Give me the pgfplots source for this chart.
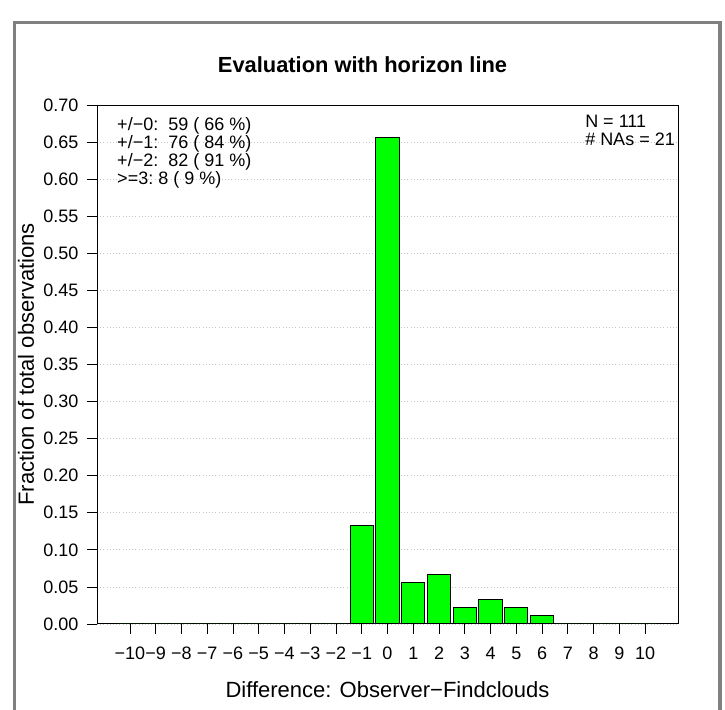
\documentclass[border=0pt]{standalone}
\usepackage{fontspec}
\setmainfont{Liberation Sans}
\usepackage{pgfplots}
\pgfplotsset{compat=1.18}
\definecolor{bargreen}{RGB}{0,255,0}
\definecolor{framegray}{RGB}{128,128,128}
\newcommand{\tickfont}{\fontsize{13.5}{11.6}\selectfont}
\newcommand{\labfont}{\fontsize{16.5}{18}\selectfont}

\begin{document}
\begin{tikzpicture}[x=0.75pt,y=0.75pt]
  \useasboundingbox (0,0) rectangle (725,710);
  % outer frame, open at the bottom
  \draw[framegray, line width=2.6pt] (14.5,-5) -- (14.5,687.5) -- (720,687.5) -- (720,-5);
  % title, centred on the whole figure
  \node[anchor=base, font=\bfseries\fontsize{16.4}{18}\selectfont] at (362.5,637) {Evaluation with horizon line};

  \begin{axis}[
      at={(72.75pt,64.5pt)}, anchor=south west,
      scale only axis,
      width=435.75pt, height=389.25pt,
      xmin=-11.28, xmax=11.28,
      ymin=0, ymax=0.70,
      axis line style={black, line width=0.75pt},
      tick align=outside,
      major tick length=7.5pt,
      tick style={black, line width=0.6pt},
      xtick pos=left, ytick pos=left,
      xtick={-10,-9,-8,-7,-6,-5,-4,-3,-2,-1,0,1,2,3,4,5,6,7,8,9,10},
      xticklabels={−10,−9,−8,−7,−6,−5,−4,−3,−2,−1,0,1,2,3,4,5,6,7,8,9,10},
      ytick={0,0.05,0.10,0.15,0.20,0.25,0.30,0.35,0.40,0.45,0.50,0.55,0.60,0.65,0.70},
      yticklabels={0.00,0.05,0.10,0.15,0.20,0.25,0.30,0.35,0.40,0.45,0.50,0.55,0.60,0.65,0.70},
      tick label style={font=\tickfont},
      xticklabel style={yshift=-6.5pt},
      yticklabel style={xshift=-3pt},
      ymajorgrids,
      major grid style={gray!45, line width=0.6pt, dash pattern=on 0.8pt off 1.6pt},
      xlabel={Difference: Observer−Findclouds},
      ylabel={Fraction of total observations},
      every axis x label/.style={at={(axis description cs:0.5,-0.127)}, anchor=center, font=\labfont},
      every axis y label/.style={at={(axis description cs:-0.122,0.5)}, rotate=90, anchor=center, font=\labfont},
      ybar, bar width=0.9,
    ]
    \addplot[fill=bargreen, draw=black, line width=0.75pt] coordinates {
      (-10,0) (-9,0) (-8,0) (-7,0) (-6,0) (-5,0) (-4,0) (-3,0) (-2,0)
      (-1,0.1333) (0,0.6556) (1,0.0556) (2,0.0667) (3,0.0222)
      (4,0.0333) (5,0.0222) (6,0.0111)
      (7,0) (8,0) (9,0) (10,0)
    };
    \node[anchor=north west, font=\tickfont, inner sep=0pt, align=left] at (rel axis cs:0.0344,0.9769)
      {+/−0:\ \ 59 (\ 66 \%)\\+/−1:\ \ 76 (\ 84 \%)\\+/−2:\ \ 82 (\ 91 \%)\\>=3:\ 8 (\ 9 \%)};
    \node[anchor=north west, font=\tickfont, inner sep=0pt, align=left] at (rel axis cs:0.8399,0.9803)
      {N = 111\\[1.3pt]\# NAs = 21};
  \end{axis}
\end{tikzpicture}
\end{document}
